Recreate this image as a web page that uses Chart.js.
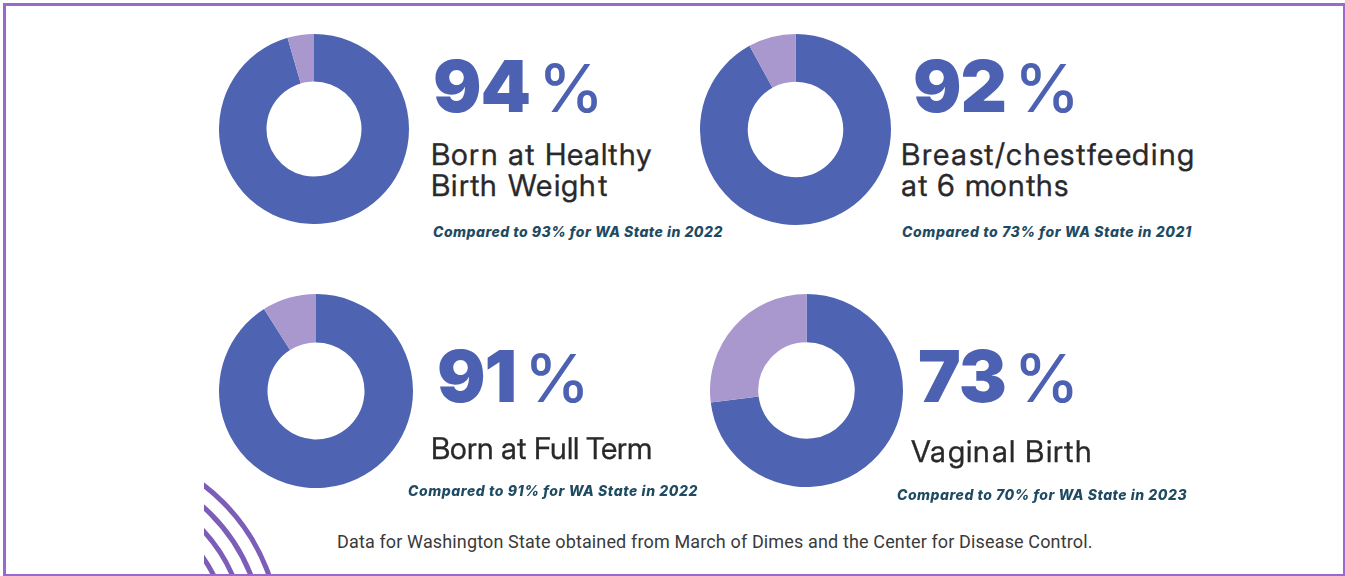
<!DOCTYPE html>
<html>
<head>
<meta charset="utf-8">
<script src="https://cdn.jsdelivr.net/npm/chart.js@4/dist/chart.umd.min.js"></script>
<style>
  @font-face {
    font-family: 'LabelSans';
    src: local('Inter Regular'), local('Inter-Regular'), local('Inter');
    font-weight: 400;
    ascent-override: 78%;
    descent-override: 20%;
    line-gap-override: 0%;
  }
  html, body { margin: 0; padding: 0; background: #fff; }
  body { width: 1345px; height: 576px; position: relative; overflow: hidden; }
  #frame {
    position: absolute; left: 3px; top: 3px; width: 1342px; height: 573px;
    box-sizing: border-box; border: solid #9a69cf;
    border-width: 3px 2px 2px 3px;
  }
  .ring { position: absolute; }
  .txt { position: absolute; white-space: nowrap; left: 0; top: 0; }
  .big { font-family: Inter, sans-serif; color: #4c61b2; font-size: 72px; line-height: 1; }
  .big b { font-weight: 900; letter-spacing: -1px; }
  .big .pc { font-weight: 500; font-size: 66px; margin-left: 8px; }
  .lbl { font-family: LabelSans, Inter, sans-serif; color: #29292b; font-size: 30px; line-height: 31px; -webkit-text-stroke: 0.3px #29292b; }
  .cmp { font-family: Inter, sans-serif; color: #1f4b62; font-size: 14px; font-weight: 800; font-style: italic; line-height: 1; }
  .foot { font-family: Roboto, sans-serif; color: #3a3a3a; font-size: 18px; line-height: 1; }
  .bl { display: inline-block; width: 0; height: 0; }
  #arcs { position: absolute; left: 204px; top: 470px; }
</style>
</head>
<body>
<div id="frame"></div>
<svg id="arcs" width="80" height="104"></svg>
<div id="stage"></div>
<script>
// data
var labelLines = [
  ['Born at Healthy', 'Birth Weight'],
  ['Breast/chestfeeding', 'at 6 months'],
  ['Born at Full Term'],
  ['Vaginal Birth']
];
var localPct = [94, 92, 91, 73];          // big headline numbers
var ringShare = [95.5, 92, 91, 73];       // blue share of each ring as drawn
var statePct = [93, 73, 91, 70];
var stateYear = [2022, 2021, 2022, 2023];
var footNote = 'Data for Washington State obtained from March of Dimes and the Center for Disease Control.';

var blue = '#4e63b1';
var lilac = '#a998cd';

// layout of each block: ring box, text x / baselines, text widths to fit
var blocks = [
  { ring: [219, 34, 190], numX: 433, numY: 112, lblX: 431, lblY: 165, lblW: [222, 177], cmpX: 433, cmpY: 237 },
  { ring: [700, 34, 191], numX: 913, numY: 112, lblX: 901, lblY: 165, lblW: [295, 168], cmpX: 902, cmpY: 237 },
  { ring: [219, 294, 194], numX: 437, numY: 402, lblX: 431, lblY: 459, lblW: [221], cmpX: 408, cmpY: 496 },
  { ring: [710, 294, 193], numX: 918, numY: 402, lblX: 911, lblY: 462, lblW: [182], cmpX: 897, cmpY: 500 }
];

var stage = document.getElementById('stage');
var placed = [];

function addText(cls, html, x, baseline) {
  var d = document.createElement('div');
  d.className = 'txt ' + cls;
  d.innerHTML = '<span class="bl"></span>' + html;
  d.style.left = x + 'px';
  stage.appendChild(d);
  placed.push([d, baseline]);
  return d;
}

function fitSpan(text, w) {
  return '<span class="fit" data-w="' + w + '">' + text + '</span>';
}

blocks.forEach(function(b, i) {
  var wrap = document.createElement('div');
  wrap.className = 'ring';
  wrap.style.left = b.ring[0] + 'px';
  wrap.style.top = b.ring[1] + 'px';
  wrap.style.width = b.ring[2] + 'px';
  wrap.style.height = b.ring[2] + 'px';
  var cv = document.createElement('canvas');
  wrap.appendChild(cv);
  stage.appendChild(wrap);

  new Chart(cv, {
    type: 'doughnut',
    data: {
      labels: ['Local', 'Other'],
      datasets: [{
        data: [ringShare[i], 100 - ringShare[i]],
        backgroundColor: [blue, lilac],
        borderWidth: 0,
        hoverOffset: 0,
        offset: 0
      }]
    },
    options: {
      responsive: true,
      maintainAspectRatio: false,
      animation: false,
      cutout: '50%',
      layout: { padding: 0 },
      plugins: { legend: { display: false }, tooltip: { enabled: false } }
    }
  });

  addText('big', '<b>' + localPct[i] + '</b><span class="pc">%</span>', b.numX, b.numY);
  var lines = labelLines[i].map(function(line, k) { return fitSpan(line, b.lblW[k]); });
  addText('lbl', lines.join('<br>'), b.lblX, b.lblY);
  addText('cmp', fitSpan('Compared to ' + statePct[i] + '% for WA State in ' + stateYear[i], 290), b.cmpX, b.cmpY);
});

addText('foot', fitSpan(footNote, 756), 337, 548);

// corner arcs decoration
var svg = document.getElementById('arcs');
[195, 178, 161, 144].forEach(function(r) {
  var c = document.createElementNS('http://www.w3.org/2000/svg', 'circle');
  c.setAttribute('cx', -119);
  c.setAttribute('cy', 170);
  c.setAttribute('r', r);
  c.setAttribute('fill', 'none');
  c.setAttribute('stroke', '#7c5db8');
  c.setAttribute('stroke-width', 5);
  svg.appendChild(c);
});

function settle() {
  document.querySelectorAll('.fit').forEach(function(s) {
    s.style.letterSpacing = '0px';
    var natural = s.getBoundingClientRect().width;
    var n = s.textContent.length;
    var ls = (parseFloat(s.dataset.w) - natural) / n;
    s.style.letterSpacing = ls.toFixed(2) + 'px';
  });
  placed.forEach(function(p) {
    var bl = p[0].querySelector('.bl');
    p[0].style.top = (p[1] - bl.offsetTop) + 'px';
  });
}
settle();
if (document.fonts && document.fonts.ready) document.fonts.ready.then(settle);
</script>
</body>
</html>
